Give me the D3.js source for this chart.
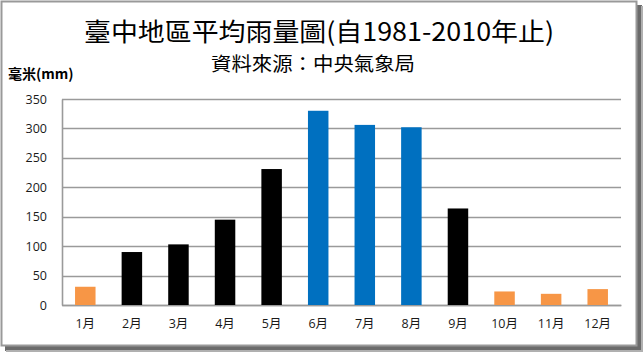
<!DOCTYPE html>
<html><head><meta charset="utf-8">
<script src="https://cdn.jsdelivr.net/npm/d3@7"></script>
<style>body{margin:0;background:#fff;}svg{display:block;}</style>
</head><body><svg id="c" width="644" height="353"></svg>
<script>
const months = ["1月","2月","3月","4月","5月","6月","7月","8月","9月","10月","11月","12月"];
const rainfall = [31, 90, 103, 145, 231, 330, 306, 302, 164, 23, 19, 27];
const barColors = ["#F79646","#000000","#000000","#000000","#000000","#0070C0","#0070C0","#0070C0","#000000","#F79646","#F79646","#F79646"];
const yTicks = [0, 50, 100, 150, 200, 250, 300, 350];
const title = "臺中地區平均雨量圖(自1981-2010年止)";
const subtitle = "資料來源：中央氣象局";
const yUnit = "毫米(mm)";

const svg = d3.select("#c");
const cjk = "'Noto Sans CJK TC','Noto Sans CJK SC',sans-serif";

// frame with shadow
const sh = svg.append("g");
sh.append("rect").attr("x",5).attr("y",346).attr("width",637).attr("height",5).attr("fill","#6b6b6b");
sh.append("rect").attr("x",637).attr("y",5).attr("width",5).attr("height",346).attr("fill","#6b6b6b");
sh.append("rect").attr("x",6).attr("y",350).attr("width",636).attr("height",2).attr("fill","#b0b0b0");
sh.append("rect").attr("x",641).attr("y",6).attr("width",2).attr("height",346).attr("fill","#b0b0b0");
svg.append("rect").attr("x",1.5).attr("y",1.5).attr("width",635).attr("height",344)
  .attr("fill","#fff").attr("stroke","#999").attr("stroke-width",2);

const m = {left:62, right:621, top:99, bottom:305};
const x = d3.scaleBand().domain(months).range([m.left, m.right]).paddingInner(0.56).paddingOuter(0.28);
const y = d3.scaleLinear().domain([0, 350]).range([m.bottom, m.top]);

// gridlines
svg.append("g").selectAll("line").data(yTicks).join("line")
  .attr("x1", m.left).attr("x2", m.right)
  .attr("y1", d => Math.round(y(d)) + 0.5).attr("y2", d => Math.round(y(d)) + 0.5)
  .attr("stroke", "#9a9a9a").attr("stroke-width", 1.6);

// y axis
const ya = svg.append("g").attr("transform", `translate(${m.left},0)`)
  .call(d3.axisLeft(y).tickValues(yTicks).tickSize(0).tickPadding(15));
ya.select(".domain").attr("stroke","#9a9a9a").attr("stroke-width",1.6);
ya.selectAll("text").attr("font-family","'Open Sans',sans-serif").attr("font-size",12.5).attr("fill","#1a1a1a");

// x axis
const xa = svg.append("g").attr("transform", `translate(0,${m.bottom})`)
  .call(d3.axisBottom(x).tickSize(0).tickPadding(14));
xa.select(".domain").attr("stroke","#9a9a9a").attr("stroke-width",1.6);
xa.selectAll("text").attr("font-family", "'Open Sans','Noto Sans CJK TC',sans-serif").attr("font-size",12.5).attr("fill","#1a1a1a");

// bars
svg.append("g").selectAll("rect").data(rainfall).join("rect")
  .attr("x", (d,i) => x(months[i]))
  .attr("width", x.bandwidth())
  .attr("y", d => y(d))
  .attr("height", d => y(0) - y(d))
  .attr("fill", (d,i) => barColors[i]);

// titles
svg.append("text").attr("x", 319).attr("y", 41).attr("text-anchor","middle")
  .attr("font-family", cjk).attr("font-size", 25.5).attr("fill","#000")
  .attr("textLength", 470).attr("lengthAdjust","spacingAndGlyphs").text(title);
svg.append("text").attr("x", 313).attr("y", 71).attr("text-anchor","middle")
  .attr("font-family", cjk).attr("font-size", 19).attr("fill","#000")
  .attr("textLength", 204).attr("lengthAdjust","spacingAndGlyphs").text(subtitle);
svg.append("text").attr("x", 8).attr("y", 79)
  .attr("font-family", cjk).attr("font-size", 14).attr("font-weight","bold").attr("fill","#000").text(yUnit);
</script></body></html>
